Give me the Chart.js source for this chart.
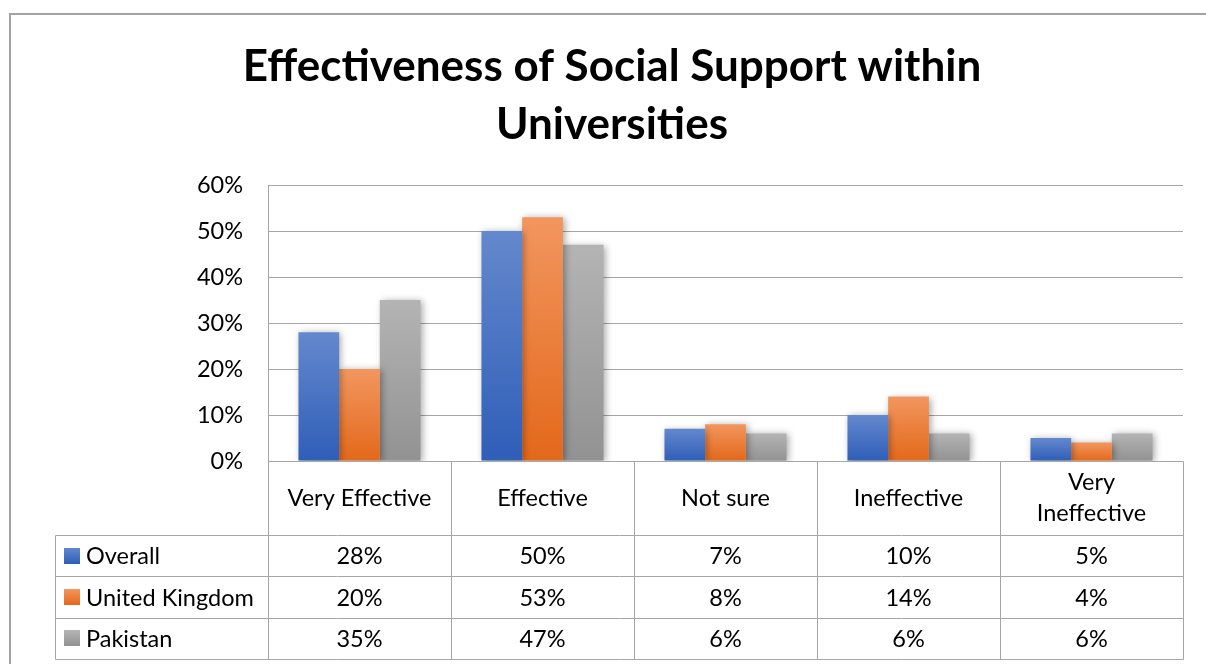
<!DOCTYPE html>
<html>
<head>
<meta charset="utf-8">
<script src="https://cdn.jsdelivr.net/npm/chart.js@4"></script>
<style>
  html, body { margin: 0; padding: 0; background: #fff; }
  canvas { display: block; }
</style>
</head>
<body>
<canvas id="chart" width="1206" height="664"></canvas>
<script>
// Survey results: share of respondents per rating, by group
const categories = ['Very Effective', 'Effective', 'Not sure', 'Ineffective', ['Very', 'Ineffective']];
const seriesNames = ['Overall', 'United Kingdom', 'Pakistan'];
const overall = [28, 50, 7, 10, 5];
const unitedKingdom = [20, 53, 8, 14, 4];
const pakistan = [35, 47, 6, 6, 6];
const yTicks = [0, 10, 20, 30, 40, 50, 60];
const titleLines = ['Effectiveness of Social Support within', 'Universities'];

const FONT = 'Lato';
const TEXT_SIZE = 23.5;
const LINE = '#a6a6a6';
const palette = [
  { top: '#6488cd', bottom: '#2f5eb8' },
  { top: '#f2965f', bottom: '#e3681a' },
  { top: '#b4b4b4', bottom: '#929292' }
];

// Vertical gradient per bar: lighter at the top, deeper at the base
function barFill(idx) {
  return (ctx) => {
    const chart = ctx.chart;
    const y = chart.scales && chart.scales.y;
    if (!y || ctx.type !== 'data' || !ctx.parsed) return palette[idx].bottom;
    const top = y.getPixelForValue(ctx.parsed.y);
    const base = y.getPixelForValue(0);
    if (!isFinite(top) || !isFinite(base) || base - top < 1) return palette[idx].bottom;
    const g = chart.ctx.createLinearGradient(0, top, 0, base);
    g.addColorStop(0, palette[idx].top);
    g.addColorStop(1, palette[idx].bottom);
    return g;
  };
}

// Soft drop shadow under the bars
const barShadow = {
  id: 'barShadow',
  beforeDatasetsDraw(chart) {
    const c = chart.ctx;
    c.save();
    c.shadowColor = 'rgba(0,0,0,0.35)';
    c.shadowBlur = 7;
    c.shadowOffsetX = 2;
    c.shadowOffsetY = 1;
  },
  afterDatasetsDraw(chart) {
    chart.ctx.restore();
  }
};

// Outer frame of the chart object
const frame = {
  id: 'frame',
  beforeDraw(chart) {
    const c = chart.ctx;
    c.save();
    c.fillStyle = '#fff';
    c.fillRect(0, 0, chart.width, chart.height);
    c.fillStyle = '#a3a3a3';
    c.fillRect(9, 13, chart.width - 9, 2);
    c.fillRect(9, 13, 2, chart.height - 13);
    c.restore();
  }
};

// Data table under the plot: category header row plus one row per series
const dataTable = {
  id: 'dataTable',
  afterDraw(chart) {
    const c = chart.ctx;
    const a = chart.chartArea;
    const x = chart.scales.x;
    const n = categories.length;
    const colW = (a.right - a.left) / n;
    const headerBottom = a.bottom + 74;
    const rowH = (chart.height - 5 - headerBottom) / seriesNames.length;
    const tableLeft = 55;
    const px = v => Math.round(v) + 0.5;
    const series = [overall, unitedKingdom, pakistan];

    c.save();
    c.strokeStyle = LINE;
    c.lineWidth = 1;
    c.beginPath();
    // header row outline
    c.moveTo(px(a.left), px(a.bottom)); c.lineTo(px(a.right), px(a.bottom));
    for (let i = 0; i <= n; i++) {
      const xx = px(a.left + i * colW);
      c.moveTo(xx, px(a.bottom)); c.lineTo(xx, px(headerBottom + rowH * seriesNames.length));
    }
    // series rows
    for (let r = 0; r <= seriesNames.length; r++) {
      const yy = px(headerBottom + r * rowH);
      c.moveTo(px(tableLeft), yy); c.lineTo(px(a.right), yy);
    }
    c.moveTo(px(tableLeft), px(headerBottom));
    c.lineTo(px(tableLeft), px(headerBottom + rowH * seriesNames.length));
    c.stroke();

    c.fillStyle = '#000';
    c.font = TEXT_SIZE + 'px ' + FONT;
    c.textAlign = 'center';
    c.textBaseline = 'middle';
    // category labels
    categories.forEach((lab, i) => {
      const cx = x.getPixelForValue(i);
      const lines = Array.isArray(lab) ? lab : [lab];
      const lh = 31;
      const cy = (a.bottom + headerBottom) / 2;
      lines.forEach((t, k) => {
        c.fillText(t, cx, cy + (k - (lines.length - 1) / 2) * lh);
      });
    });
    // values and legend keys
    series.forEach((vals, r) => {
      const cy = headerBottom + (r + 0.5) * rowH;
      vals.forEach((v, i) => {
        c.textAlign = 'center';
        c.fillText(v + '%', x.getPixelForValue(i), cy + 1);
      });
      const g = c.createLinearGradient(0, cy - 8, 0, cy + 8);
      g.addColorStop(0, palette[r].top);
      g.addColorStop(1, palette[r].bottom);
      c.fillStyle = g;
      c.fillRect(64, Math.round(cy - 8), 16, 16);
      c.fillStyle = '#000';
      c.textAlign = 'left';
      c.fillText(seriesNames[r], 86, cy + 1);
    });
    c.restore();
  }
};

new Chart(document.getElementById('chart'), {
  type: 'bar',
  data: {
    labels: categories,
    datasets: [
      { label: seriesNames[0], data: overall, backgroundColor: barFill(0) },
      { label: seriesNames[1], data: unitedKingdom, backgroundColor: barFill(1) },
      { label: seriesNames[2], data: pakistan, backgroundColor: barFill(2) }
    ]
  },
  options: {
    responsive: false,
    devicePixelRatio: 1,
    animation: false,
    layout: { padding: { left: 41, right: 23, top: 0, bottom: 0 } },
    datasets: { bar: { categoryPercentage: 0.667, barPercentage: 1, borderWidth: 0 } },
    scales: {
      x: {
        ticks: { display: false },
        grid: { display: false, drawTicks: false },
        border: { display: false },
        afterFit: s => { s.height = 203; }
      },
      y: {
        min: 0,
        max: 60,
        afterBuildTicks: s => { s.ticks = yTicks.map(v => ({ value: v })); },
        ticks: {
          callback: v => v + '%',
          color: '#000',
          font: { family: FONT, size: TEXT_SIZE },
          padding: 25
        },
        grid: { color: LINE, lineWidth: 1, drawTicks: false },
        border: { display: true, color: LINE, width: 1 },
        afterFit: s => { s.width = 227; }
      }
    },
    plugins: {
      legend: { display: false },
      tooltip: { enabled: false },
      title: {
        display: true,
        text: titleLines,
        color: '#000',
        font: { family: FONT, size: 44, weight: 'bold', lineHeight: '58px' },
        padding: { top: 38, bottom: 31 }
      }
    }
  },
  plugins: [frame, barShadow, dataTable]
});
</script>
</body>
</html>
